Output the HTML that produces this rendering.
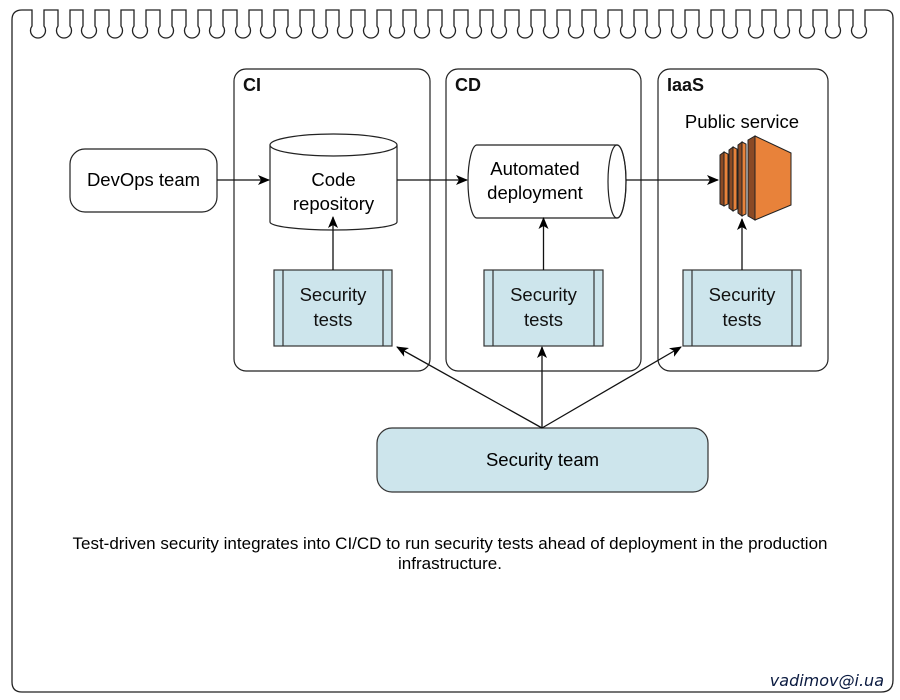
<!DOCTYPE html>
<html><head><meta charset="utf-8"><style>
body{margin:0;background:#fff;}
svg{display:block;font-family:"Liberation Sans",Arial,sans-serif;}
</style></head><body>
<svg width="900" height="700" viewBox="0 0 900 700" xmlns="http://www.w3.org/2000/svg">
<defs>
<marker id="ah" markerWidth="12" markerHeight="10" refX="11" refY="5" orient="auto" markerUnits="userSpaceOnUse">
<path d="M0,0 L12,5 L0,10 L3,5 Z" fill="#000"/></marker>
</defs>
<g fill="none" stroke="#222" stroke-width="1.3">
<path d="M12,682 L12,20 Q12,10 22,10 L30,10 
 L32,10 L32,26 A7.5,7.5 0 1 0 44,26 L44,10 L58,10 L58,26 A7.5,7.5 0 1 0 70,26 L70,10
 L83,10 L83,26 A7.5,7.5 0 1 0 95,26 L95,10 L109,10 L109,26 A7.5,7.5 0 1 0 121,26 L121,10
 L134,10 L134,26 A7.5,7.5 0 1 0 146,26 L146,10 L160,10 L160,26 A7.5,7.5 0 1 0 172,26 L172,10
 L186,10 L186,26 A7.5,7.5 0 1 0 198,26 L198,10 L211,10 L211,26 A7.5,7.5 0 1 0 223,26 L223,10
 L237,10 L237,26 A7.5,7.5 0 1 0 249,26 L249,10 L262,10 L262,26 A7.5,7.5 0 1 0 274,26 L274,10
 L288,10 L288,26 A7.5,7.5 0 1 0 300,26 L300,10 L314,10 L314,26 A7.5,7.5 0 1 0 326,26 L326,10
 L339,10 L339,26 A7.5,7.5 0 1 0 351,26 L351,10 L365,10 L365,26 A7.5,7.5 0 1 0 377,26 L377,10
 L391,10 L391,26 A7.5,7.5 0 1 0 403,26 L403,10 L416,10 L416,26 A7.5,7.5 0 1 0 428,26 L428,10
 L442,10 L442,26 A7.5,7.5 0 1 0 454,26 L454,10 L468,10 L468,26 A7.5,7.5 0 1 0 480,26 L480,10
 L493,10 L493,26 A7.5,7.5 0 1 0 505,26 L505,10 L519,10 L519,26 A7.5,7.5 0 1 0 531,26 L531,10
 L545,10 L545,26 A7.5,7.5 0 1 0 557,26 L557,10 L570,10 L570,26 A7.5,7.5 0 1 0 582,26 L582,10
 L596,10 L596,26 A7.5,7.5 0 1 0 608,26 L608,10 L622,10 L622,26 A7.5,7.5 0 1 0 634,26 L634,10
 L647,10 L647,26 A7.5,7.5 0 1 0 659,26 L659,10 L673,10 L673,26 A7.5,7.5 0 1 0 685,26 L685,10
 L699,10 L699,26 A7.5,7.5 0 1 0 711,26 L711,10 L724,10 L724,26 A7.5,7.5 0 1 0 736,26 L736,10
 L750,10 L750,26 A7.5,7.5 0 1 0 762,26 L762,10 L776,10 L776,26 A7.5,7.5 0 1 0 788,26 L788,10
 L801,10 L801,26 A7.5,7.5 0 1 0 813,26 L813,10 L827,10 L827,26 A7.5,7.5 0 1 0 839,26 L839,10
 L853,10 L853,26 A7.5,7.5 0 1 0 865,26 L865,10 L885,10 Q893,10 893,18 L893,680 Q893,692 881,692 L22,692 Q12,692 12,682"/>
</g>
<g fill="none" stroke="#222" stroke-width="1.2">
<rect x="234" y="69" width="196" height="302" rx="12"/>
<rect x="446" y="69" width="195" height="302" rx="12"/>
<rect x="658" y="69" width="170" height="302" rx="12"/>
</g>
<g font-weight="bold" font-size="18" fill="#111">
<text x="243" y="91">CI</text><text x="455" y="91">CD</text><text x="667" y="91">IaaS</text>
</g>
<rect x="70" y="149" width="147" height="63" rx="15" fill="#fff" stroke="#222" stroke-width="1.2"/>
<text x="143.5" y="186" font-size="18.5" text-anchor="middle">DevOps team</text>
<path d="M270,145 L270,222 A63.5,8 0 0 0 397,222 L397,145" fill="#fff" stroke="#222" stroke-width="1.2"/>
<ellipse cx="333.5" cy="145" rx="63.5" ry="11" fill="#fff" stroke="#222" stroke-width="1.2"/>
<text x="333.5" y="186" font-size="18.5" text-anchor="middle">Code</text>
<text x="333.5" y="210" font-size="18.5" text-anchor="middle">repository</text>
<path d="M477,145 L617,145 A9,36.5 0 0 1 617,218 L477,218 A9,36.5 0 0 1 477,145 Z" fill="#fff" stroke="#222" stroke-width="1.2"/>
<ellipse cx="617" cy="181.5" rx="9" ry="36.5" fill="none" stroke="#222" stroke-width="1.2"/>
<text x="535" y="175" font-size="18.5" text-anchor="middle">Automated</text>
<text x="535" y="199" font-size="18.5" text-anchor="middle">deployment</text>
<text x="742" y="128" font-size="18.5" text-anchor="middle">Public service</text>
<g stroke="#222" stroke-width="1">
<polygon points="720,155 724,152 724,206 720,204" fill="#8a4a25"/>
<polygon points="724,152 728,154 728,204 724,206" fill="#e8823a"/>
<polygon points="729,150 733,147 733,211 729,208" fill="#8a4a25"/>
<polygon points="733,147 737,149 737,209 733,211" fill="#e8823a"/>
<polygon points="738,145 742,142 742,216 738,213" fill="#8a4a25"/>
<polygon points="742,142 746,144 746,214 742,216" fill="#e8823a"/>
<polygon points="748,140 755,136 755,220 748,216" fill="#8a4a25"/>
<polygon points="755,136 791,153 791,205 755,220" fill="#e8823a"/>
</g>
<g fill="#cde5ec" stroke="#333" stroke-width="1.2">
<rect x="274" y="270" width="118" height="76"/>
<rect x="484" y="270" width="119" height="76"/>
<rect x="683" y="270" width="118" height="76"/>
</g>
<g stroke="#333" stroke-width="1.2">
<line x1="283" y1="270" x2="283" y2="346"/><line x1="383" y1="270" x2="383" y2="346"/>
<line x1="493" y1="270" x2="493" y2="346"/><line x1="594" y1="270" x2="594" y2="346"/>
<line x1="692" y1="270" x2="692" y2="346"/><line x1="792" y1="270" x2="792" y2="346"/>
</g>
<g font-size="18.5" text-anchor="middle" fill="#111">
<text x="333" y="301">Security</text><text x="333" y="326">tests</text>
<text x="543.5" y="301">Security</text><text x="543.5" y="326">tests</text>
<text x="742" y="301">Security</text><text x="742" y="326">tests</text>
</g>
<rect x="377" y="428" width="331" height="64" rx="15" fill="#cde5ec" stroke="#333" stroke-width="1.2"/>
<text x="542.5" y="466" font-size="18.5" text-anchor="middle">Security team</text>
<g stroke="#111" stroke-width="1.3" fill="none" marker-end="url(#ah)">
<line x1="217" y1="180" x2="269" y2="180"/>
<line x1="397" y1="180" x2="467" y2="180"/>
<line x1="626" y1="180" x2="718" y2="180"/>
<line x1="333" y1="270" x2="333" y2="217"/>
<line x1="543.5" y1="270" x2="543.5" y2="218"/>
<line x1="742" y1="270" x2="742" y2="219"/>
<line x1="542" y1="428" x2="397" y2="347"/>
<line x1="542" y1="428" x2="542" y2="347"/>
<line x1="542" y1="428" x2="681" y2="347"/>
</g>
<text x="450" y="549" font-size="17" text-anchor="middle">Test-driven security integrates into CI/CD to run security tests ahead of deployment in the production</text>
<text x="450" y="569" font-size="17" text-anchor="middle">infrastructure.</text>
<text x="884" y="686" font-size="16" font-style="italic" text-anchor="end" fill="#0a1a40" font-family="DejaVu Sans, sans-serif">vadimov@i.ua</text>
</svg>
</body></html>
